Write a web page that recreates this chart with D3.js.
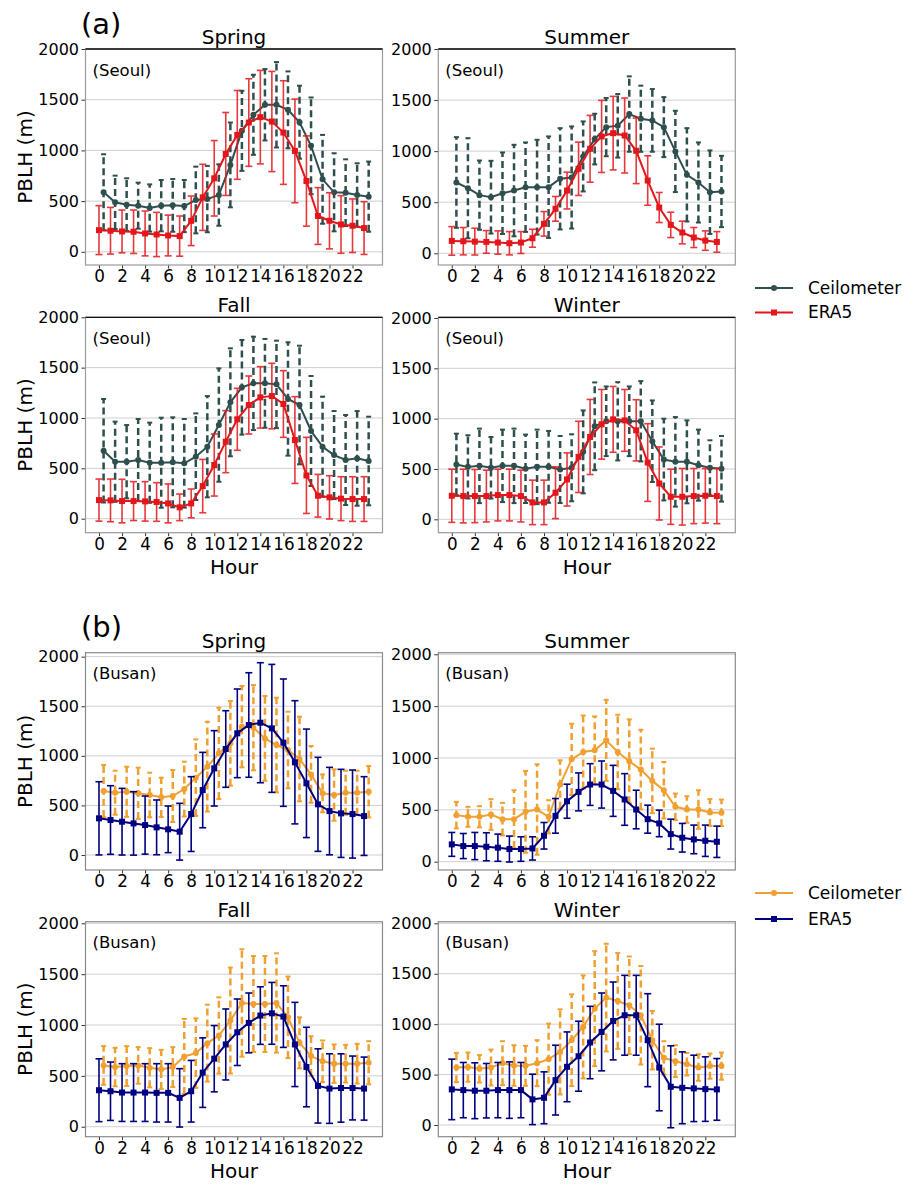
<!DOCTYPE html>
<html>
<head>
<meta charset="utf-8">
<script src="https://cdn.jsdelivr.net/npm/d3@7"></script>
<style>
  html, body { margin: 0; padding: 0; background: #fff; }
  svg { display: block; font-family: "DejaVu Sans", sans-serif; }
</style>
</head>
<body>
<svg id="chart" width="916" height="1188"></svg>
<script>
// ---------------- DATA ----------------
const hours = [0,1,2,3,4,5,6,7,8,9,10,11,12,13,14,15,16,17,18,19,20,21,22,23];
const xTickValues = [0,2,4,6,8,10,12,14,16,18,20,22];
const yTickValues = [0,500,1000,1500,2000];
const seasons = ["Spring", "Summer", "Fall", "Winter"];
const seriesNames = ["Ceilometer", "ERA5"];
const cities = ["(Seoul)", "(Busan)"];
const groupLabels = ["(a)", "(b)"];
const ceilHourOffset = 0.4;

// Seoul
const seoulSpringCeilMean = [587,488,465,455,432,455,458,451,511,520,560,857,1193,1351,1450,1450,1400,1278,1045,715,587,583,560,544];
const seoulSpringCeilStd  = [375,263,260,227,233,253,260,257,329,327,303,418,395,395,352,421,379,360,477,438,385,329,313,346];
const seoulSpringEraMean  = [214,208,201,198,181,171,161,155,306,537,725,965,1153,1275,1328,1285,1176,995,698,353,306,270,257,234];
const seoulSpringEraStd   = [241,230,211,214,221,218,201,198,244,326,372,409,438,432,461,494,511,511,445,280,277,284,264,260];

const seoulSummerCeilMean = [693,637,569,549,588,614,647,647,647,729,742,948,1118,1235,1248,1363,1317,1301,1235,997,768,693,598,605];
const seoulSummerCeilStd  = [444,490,339,356,399,448,438,464,497,496,500,343,248,285,311,369,324,307,294,398,457,392,409,349];
const seoulSummerEraMean  = [121,118,114,111,105,98,105,147,288,435,614,827,1023,1144,1176,1153,1003,712,448,278,203,154,124,111];
const seoulSummerEraStd   = [140,134,131,111,114,114,107,88,120,121,180,261,327,353,360,367,321,242,147,124,111,98,95,101];

const seoulFallCeilMean = [675,566,566,583,556,556,560,550,616,715,930,1156,1305,1344,1344,1334,1189,1129,871,715,632,583,599,573];
const seoulFallCeilStd  = [514,398,364,407,398,447,447,440,430,503,563,536,470,464,441,434,563,589,546,497,437,447,470,440];
const seoulFallEraMean  = [185,182,175,175,172,166,152,113,152,324,533,765,987,1129,1205,1218,1139,781,430,228,212,199,195,195];
const seoulFallEraStd   = [209,212,216,193,196,192,193,132,143,265,308,308,308,288,305,325,331,431,378,212,215,218,222,222];

const seoulWinterCeilMean = [545,521,531,512,531,531,502,521,521,495,512,670,924,974,974,974,974,776,594,571,571,538,512,502];
const seoulWinterCeilStd  = [306,314,370,306,360,370,340,370,357,333,333,412,436,346,389,346,399,405,406,445,412,353,273,326];
const seoulWinterEraMean  = [234,231,231,231,241,241,231,168,168,264,396,620,818,944,993,983,884,564,356,224,224,231,234,231];
const seoulWinterEraStd   = [264,267,264,257,257,257,257,221,221,257,264,354,373,346,327,307,304,386,363,274,281,274,271,274];

// Busan
const busanSpringCeilMean = [645,628,638,622,605,582,595,665,780,891,1025,1126,1294,1284,1176,1109,1059,968,813,622,605,628,628,638];
const busanSpringCeilStd  = [262,222,253,259,225,198,262,276,386,453,461,427,410,430,427,477,386,427,286,191,259,222,222,259];
const busanSpringEraMean  = [370,353,336,319,302,279,259,235,413,655,874,1069,1227,1311,1334,1277,1133,935,723,511,443,420,413,393];
const busanSpringEraStd   = [369,346,336,320,293,276,235,286,377,380,380,386,447,527,605,645,642,621,547,474,441,444,444,397];

const busanSummerCeilMean = [449,433,433,455,410,410,481,503,433,744,987,1058,1074,1170,1058,968,888,779,689,529,503,503,474,471];
const busanSummerCeilStd  = [128,96,102,148,157,279,394,436,160,234,343,352,327,391,359,404,384,311,272,128,128,186,129,128];
const busanSummerEraMean  = [167,151,151,144,135,122,122,128,250,442,583,673,744,744,683,600,503,410,369,266,231,215,202,192];
const busanSummerEraStd   = [115,121,131,135,131,125,118,112,128,167,164,183,201,227,246,249,186,135,128,144,138,138,151,151];

const busanFallCeilMean = [603,587,597,603,580,564,587,691,724,822,897,1044,1217,1207,1207,1217,1076,825,695,643,620,620,620,629];
const busanFallCeilStd  = [190,189,196,180,193,192,196,369,342,378,375,521,528,472,472,488,401,251,195,205,189,185,195,212];
const busanFallEraMean  = [359,349,336,336,336,333,333,284,349,532,669,809,929,1021,1093,1115,1083,809,587,401,375,381,381,375];
const busanFallEraStd   = [309,287,284,284,284,287,287,287,303,342,326,349,327,294,283,304,303,414,391,365,342,336,314,310];

const busanWinterCeilMean = [570,574,557,570,613,590,587,613,653,725,841,973,1154,1263,1230,1187,1088,841,666,633,603,570,584,584];
const busanWinterCeilStd  = [145,145,136,178,218,201,198,228,353,422,455,511,570,534,475,484,488,290,165,158,112,132,125,135];
const busanWinterEraMean  = [353,346,340,340,346,346,346,254,270,445,577,682,818,923,1032,1088,1088,841,570,379,369,363,356,353];
const busanWinterEraStd   = [300,274,277,270,274,280,274,250,257,346,346,347,359,386,386,396,396,461,429,406,356,329,320,306];

// ---------------- LAYOUT / STYLE ----------------
const colA = { ceil: "#2F4F4F", era: "#e3161b" };
const colB = { ceil: "#F0A030", era: "#000080" };

const panels = [
  { g:0, s:0, left:85.5,  top:49,    h:216, ylim:[-130,2000], ceilM:seoulSpringCeilMean, ceilS:seoulSpringCeilStd, eraM:seoulSpringEraMean, eraS:seoulSpringEraStd, ylab:true,  xlab:false },
  { g:0, s:1, left:438.3, top:49,    h:216, ylim:[-115,2000], ceilM:seoulSummerCeilMean, ceilS:seoulSummerCeilStd, eraM:seoulSummerEraMean, eraS:seoulSummerEraStd, ylab:false, xlab:false },
  { g:0, s:2, left:85.5,  top:317.3, h:215.4, ylim:[-139,2000], ceilM:seoulFallCeilMean, ceilS:seoulFallCeilStd, eraM:seoulFallEraMean, eraS:seoulFallEraStd, ylab:true,  xlab:true },
  { g:0, s:3, left:438.3, top:317.3, h:215.4, ylim:[-133,2007], ceilM:seoulWinterCeilMean, ceilS:seoulWinterCeilStd, eraM:seoulWinterEraMean, eraS:seoulWinterEraStd, ylab:false, xlab:true },
  { g:1, s:0, left:85.5,  top:652.7, h:217.3, ylim:[-151,2040], ceilM:busanSpringCeilMean, ceilS:busanSpringCeilStd, eraM:busanSpringEraMean, eraS:busanSpringEraStd, ylab:true,  xlab:false },
  { g:1, s:1, left:438.3, top:652.7, h:217.3, ylim:[-80,2015],  ceilM:busanSummerCeilMean, ceilS:busanSummerCeilStd, eraM:busanSummerEraMean, eraS:busanSummerEraStd, ylab:false, xlab:false },
  { g:1, s:2, left:85.5,  top:921.7, h:215,   ylim:[-98,2016],  ceilM:busanFallCeilMean, ceilS:busanFallCeilStd, eraM:busanFallEraMean, eraS:busanFallEraStd, ylab:true,  xlab:true },
  { g:1, s:3, left:438.3, top:921.7, h:215,   ylim:[-116,2016], ceilM:busanWinterCeilMean, ceilS:busanWinterCeilStd, eraM:busanWinterEraMean, eraS:busanWinterEraStd, ylab:false, xlab:true }
];
const panelW = 297;

const svg = d3.select("#chart");

panels.forEach(p => {
  const cols = p.g === 0 ? colA : colB;
  const g = svg.append("g").attr("transform", `translate(${p.left},${p.top})`);
  const x = d3.scaleLinear().domain([-1.17, 24.6]).range([0, panelW]);
  const y = d3.scaleLinear().domain(p.ylim).range([p.h, 0]);

  // grid
  g.append("g").selectAll("line").data(yTickValues).join("line")
    .attr("x1", 0).attr("x2", panelW)
    .attr("y1", d => y(d)).attr("y2", d => y(d))
    .attr("stroke", "#cfcfcf").attr("stroke-width", 1);

  // axes
  const ya = g.append("g").call(d3.axisLeft(y).tickValues(yTickValues).tickSize(4).tickPadding(2.5).tickFormat(d3.format("d")));
  ya.select(".domain").remove();
  ya.selectAll("text").attr("font-size", 16).attr("fill", "#000").attr("font-family", "DejaVu Sans");
  ya.selectAll("line").attr("stroke", "#333");

  const xa = g.append("g").attr("transform", `translate(0,${p.h})`)
    .call(d3.axisBottom(x).tickValues(xTickValues).tickSize(3.5).tickPadding(2).tickFormat(d3.format("d")));
  xa.select(".domain").remove();
  xa.selectAll("text").attr("font-size", 16.8).attr("fill", "#000").attr("font-family", "DejaVu Sans");
  xa.selectAll("line").attr("stroke", "#333");

  // Ceilometer error bars (dashed)
  const ceilG = g.append("g");
  hours.forEach((h, i) => {
    const xc = x(h + ceilHourOffset);
    const lo = p.ceilM[i] - p.ceilS[i], hi = p.ceilM[i] + p.ceilS[i];
    ceilG.append("line").attr("x1", xc).attr("x2", xc).attr("y1", y(lo)).attr("y2", y(hi))
      .attr("stroke", cols.ceil).attr("stroke-width", 2.5).attr("stroke-dasharray", "7,4");
    [lo, hi].forEach(v => ceilG.append("line").attr("x1", xc - 2.5).attr("x2", xc + 2.5)
      .attr("y1", y(v)).attr("y2", y(v)).attr("stroke", cols.ceil).attr("stroke-width", 2));
  });
  // Ceilometer line
  g.append("path").datum(hours)
    .attr("d", d3.line().x(h => x(h + ceilHourOffset)).y((h, i) => y(p.ceilM[i])))
    .attr("fill", "none").attr("stroke", cols.ceil).attr("stroke-width", 2);
  g.append("g").selectAll("circle").data(hours).join("circle")
    .attr("cx", h => x(h + ceilHourOffset)).attr("cy", (h, i) => y(p.ceilM[i])).attr("r", 3)
    .attr("fill", cols.ceil);

  // ERA5 error bars
  const eraG = g.append("g").attr("opacity", p.g === 0 ? 0.85 : 1);
  hours.forEach((h, i) => {
    const xc = x(h);
    const lo = p.eraM[i] - p.eraS[i], hi = p.eraM[i] + p.eraS[i];
    eraG.append("line").attr("x1", xc).attr("x2", xc).attr("y1", y(lo)).attr("y2", y(hi))
      .attr("stroke", cols.era).attr("stroke-width", 1.6);
    [lo, hi].forEach(v => eraG.append("line").attr("x1", xc - 3.5).attr("x2", xc + 3.5)
      .attr("y1", y(v)).attr("y2", y(v)).attr("stroke", cols.era).attr("stroke-width", 1.6));
  });
  g.append("path").datum(hours)
    .attr("d", d3.line().x(h => x(h)).y((h, i) => y(p.eraM[i])))
    .attr("fill", "none").attr("stroke", cols.era).attr("stroke-width", 2);
  g.append("g").selectAll("rect").data(hours).join("rect")
    .attr("x", h => x(h) - 3).attr("y", (h, i) => y(p.eraM[i]) - 3)
    .attr("width", 6).attr("height", 6).attr("fill", cols.era);

  // frame
  g.append("rect").attr("x", 0).attr("y", 0).attr("width", panelW).attr("height", p.h)
    .attr("fill", "none").attr("stroke", p.g === 0 ? "#9a9a9a" : "#8a8a8a").attr("stroke-width", 1.2);
  if (p.g === 0) {
    g.append("line").attr("x1", 0).attr("x2", panelW).attr("y1", 0).attr("y2", 0)
      .attr("stroke", "#111").attr("stroke-width", 1.3);
  }

  // title
  g.append("text").attr("x", panelW / 2).attr("y", -5).attr("text-anchor", "middle")
    .attr("font-size", 20).text(seasons[p.s]);
  // city
  g.append("text").attr("x", 7).attr("y", 26.5).attr("font-size", 16.5).text(cities[p.g]);
  // y label
  if (p.ylab) {
    g.append("text").attr("transform", `translate(${25 - p.left},${p.h / 2}) rotate(-90)`)
      .attr("text-anchor", "middle").attr("dy", "0.35em").attr("font-size", 20).text("PBLH (m)");
  }
  if (p.xlab) {
    g.append("text").attr("x", panelW / 2).attr("y", p.h + 41).attr("text-anchor", "middle")
      .attr("font-size", 20).text("Hour");
  }
});

// group labels
svg.append("text").attr("x", 81).attr("y", 34).attr("font-size", 29).text(groupLabels[0]);
svg.append("text").attr("x", 81).attr("y", 637).attr("font-size", 29).text(groupLabels[1]);

// legends
function legend(x0, y0, gap, cols) {
  const lg = svg.append("g");
  seriesNames.forEach((name, i) => {
    const yy = y0 + i * gap;
    const c = i === 0 ? cols.ceil : cols.era;
    lg.append("line").attr("x1", x0).attr("x2", x0 + 38).attr("y1", yy).attr("y2", yy)
      .attr("stroke", c).attr("stroke-width", 2);
    if (i === 0) lg.append("circle").attr("cx", x0 + 19).attr("cy", yy).attr("r", 3).attr("fill", c);
    else lg.append("rect").attr("x", x0 + 16).attr("y", yy - 3).attr("width", 6).attr("height", 6).attr("fill", c);
    lg.append("text").attr("x", x0 + 53).attr("y", yy).attr("dy", "0.35em").attr("font-size", 17).text(name);
  });
}
legend(755, 288, 24.5, colA);
legend(755, 893, 26, colB);
</script>
</body>
</html>
